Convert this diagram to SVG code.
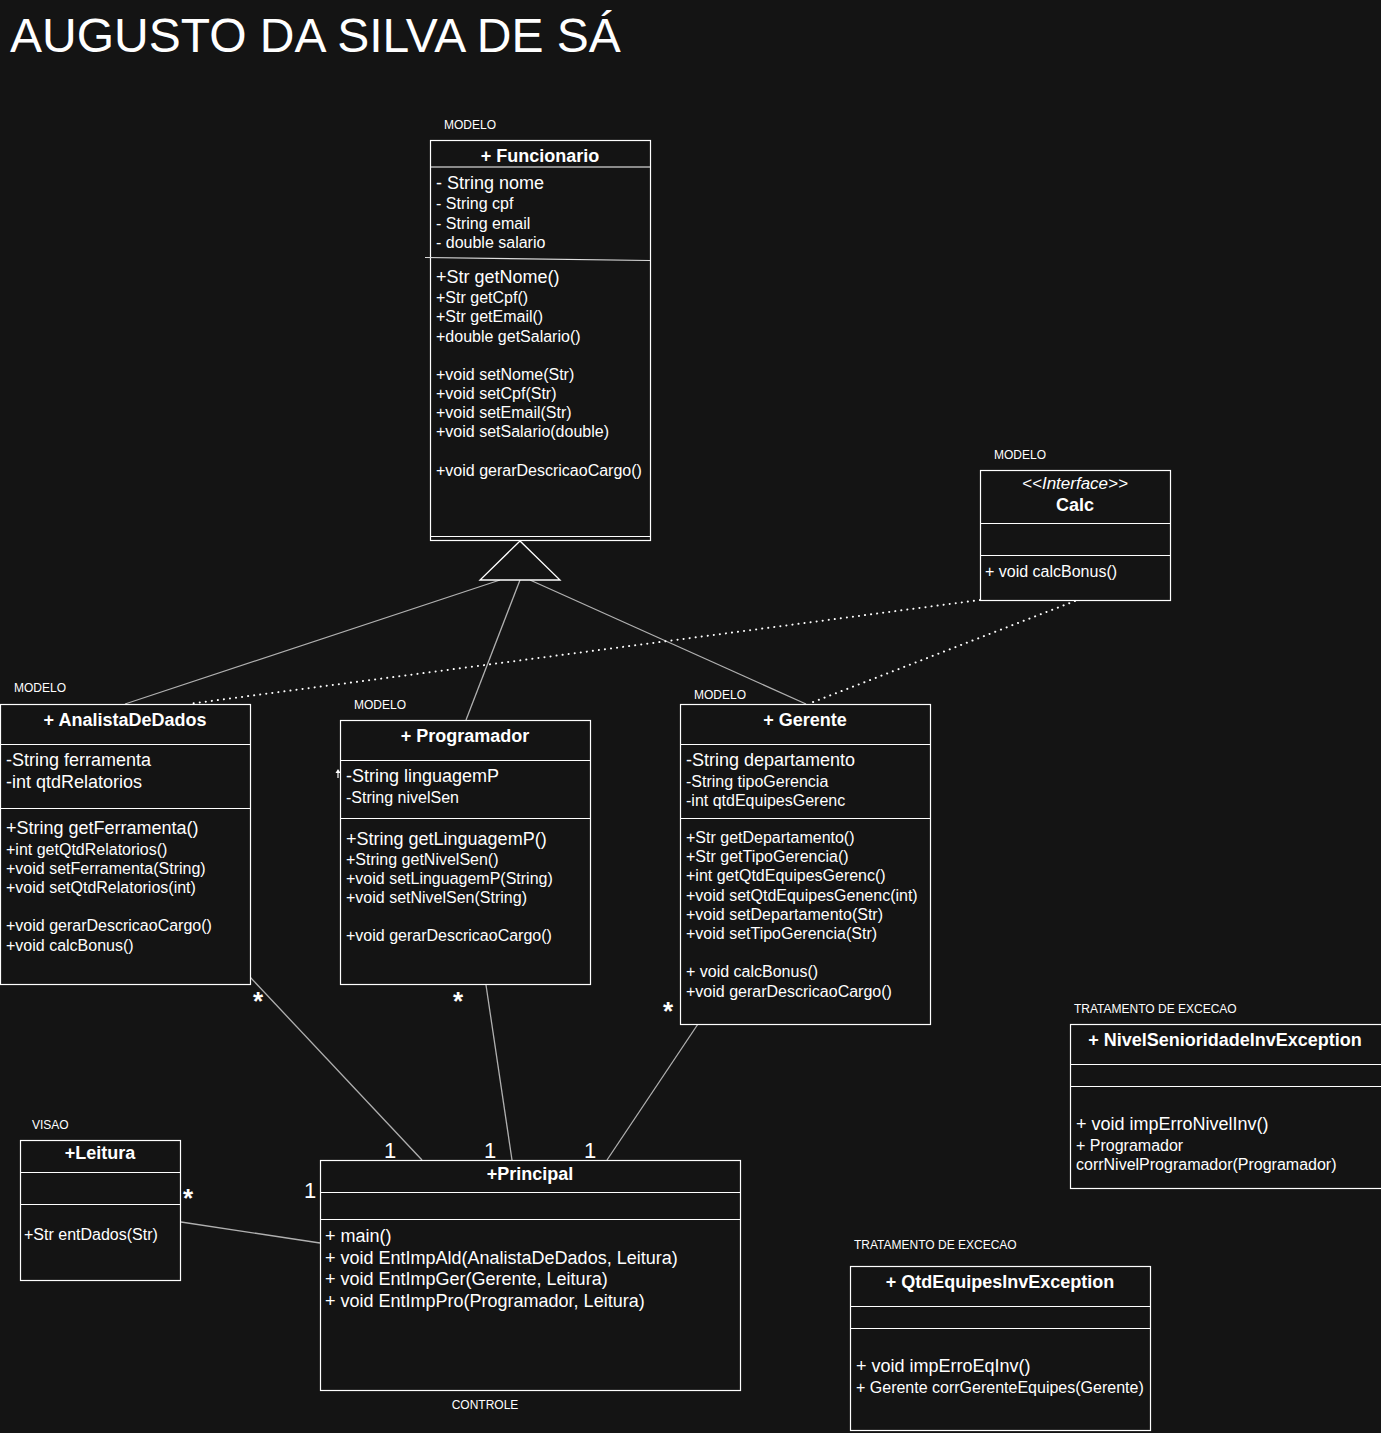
<svg xmlns="http://www.w3.org/2000/svg" width="1381" height="1433" viewBox="0 0 1381 1433">
<defs>
<style>
text{font-family:"Liberation Sans",Arial,sans-serif;fill:#ffffff}
.box{fill:#141414;stroke:#ffffff;stroke-width:1.2}
.sep{stroke:#ffffff;stroke-width:1.2;fill:none}
.hd{font-weight:bold;font-size:18px;text-anchor:middle}
.a{font-size:18px}
.m{font-size:16px}
.lbl{font-size:12px}
.con{stroke:#b0b0b0;stroke-width:1.3;fill:none}
.dot{stroke:#ffffff;stroke-width:2;stroke-dasharray:0.1 6;stroke-linecap:round;fill:none}
.mult{font-size:22px}
.star{font-size:26px;font-weight:bold}
</style>
</defs>
<rect x="0" y="0" width="1381" height="1433" fill="#141414"/>
<text x="10" y="52" font-size="48">AUGUSTO DA SILVA DE SÁ</text>

<g id="connectors">
<line class="con" x1="500" y1="580" x2="125" y2="704"/>
<line class="con" x1="520" y1="580" x2="466" y2="720"/>
<line class="con" x1="530" y1="580" x2="806" y2="704"/>
<polyline class="dot" points="980,600 188,704"/>
<polyline class="dot" points="1075,601 808,704"/>
<line class="con" x1="250" y1="977" x2="422" y2="1160"/>
<line class="con" x1="486" y1="985" x2="512" y2="1160"/>
<line class="con" x1="698" y1="1024" x2="607" y2="1160"/>
<line class="con" x1="181" y1="1222" x2="320" y2="1243"/>
<polygon points="520,541 480,580 560,580" fill="#141414" stroke="#ffffff" stroke-width="1.3"/>
<path d="M338,778 L338,771" stroke="#ffffff" stroke-width="1.2"/>
<path d="M335.5,773 L338,769 L340.5,773 Z" fill="#ffffff"/>
<text class="star" x="253" y="1010">*</text>
<text class="star" x="453" y="1010">*</text>
<text class="star" x="663" y="1020">*</text>
<text class="star" x="183" y="1207">*</text>
<text class="mult" x="384" y="1158">1</text>
<text class="mult" x="484" y="1158">1</text>
<text class="mult" x="584" y="1158">1</text>
<text class="mult" x="304" y="1198">1</text>
</g>

<g id="funcionario">
<text class="lbl" x="444" y="129">MODELO</text>
<rect class="box" x="430.5" y="140.5" width="220" height="400" fill="none"/>
<line class="sep" x1="430" y1="167" x2="650" y2="167"/>
<line x1="425" y1="257.5" x2="650" y2="260.5" stroke="#dddddd" stroke-width="1.2"/>
<line class="sep" x1="430" y1="536.5" x2="650" y2="536.5"/>
<text class="hd" x="540" y="162">+ Funcionario</text>
<text class="a" x="436" y="189">- String nome</text>
<text class="m" x="436" y="209">- String cpf</text>
<text class="m" x="436" y="229">- String email</text>
<text class="m" x="436" y="248">- double salario</text>
<text class="a" x="436" y="283">+Str getNome()</text>
<text class="m" x="436" y="303">+Str getCpf()</text>
<text class="m" x="436" y="322">+Str getEmail()</text>
<text class="m" x="436" y="342">+double getSalario()</text>
<text class="m" x="436" y="380">+void setNome(Str)</text>
<text class="m" x="436" y="399">+void setCpf(Str)</text>
<text class="m" x="436" y="418">+void setEmail(Str)</text>
<text class="m" x="436" y="437">+void setSalario(double)</text>
<text class="m" x="436" y="476">+void gerarDescricaoCargo()</text>
</g>

<g id="calc">
<text class="lbl" x="994" y="459">MODELO</text>
<rect class="box" x="980.5" y="470.5" width="190" height="130"/>
<line class="sep" x1="980" y1="523.5" x2="1170" y2="523.5"/>
<line class="sep" x1="980" y1="555.5" x2="1170" y2="555.5"/>
<text x="1075" y="489" font-size="17" font-style="italic" text-anchor="middle">&lt;&lt;Interface&gt;&gt;</text>
<text class="hd" x="1075" y="511">Calc</text>
<text class="m" x="985" y="577">+ void calcBonus()</text>
</g>

<g id="analista">
<text class="lbl" x="14" y="692">MODELO</text>
<rect class="box" x="0.5" y="704.5" width="250" height="280"/>
<line class="sep" x1="0" y1="744.5" x2="250" y2="744.5"/>
<line class="sep" x1="0" y1="808.5" x2="250" y2="808.5"/>
<text class="hd" x="125" y="726">+ AnalistaDeDados</text>
<text class="a" x="6" y="766">-String ferramenta</text>
<text class="a" x="6" y="788">-int qtdRelatorios</text>
<text class="a" x="6" y="834">+String getFerramenta()</text>
<text class="m" x="6" y="855">+int getQtdRelatorios()</text>
<text class="m" x="6" y="874">+void setFerramenta(String)</text>
<text class="m" x="6" y="893">+void setQtdRelatorios(int)</text>
<text class="m" x="6" y="931">+void gerarDescricaoCargo()</text>
<text class="m" x="6" y="951">+void calcBonus()</text>
</g>

<g id="programador">
<text class="lbl" x="354" y="709">MODELO</text>
<rect class="box" x="340.5" y="720.5" width="250" height="264"/>
<line class="sep" x1="340" y1="760.5" x2="590" y2="760.5"/>
<line class="sep" x1="340" y1="818.5" x2="590" y2="818.5"/>
<text class="hd" x="465" y="742">+ Programador</text>
<text class="a" x="346" y="782">-String linguagemP</text>
<text class="m" x="346" y="803">-String nivelSen</text>
<text class="a" x="346" y="845">+String getLinguagemP()</text>
<text class="m" x="346" y="865">+String getNivelSen()</text>
<text class="m" x="346" y="884">+void setLinguagemP(String)</text>
<text class="m" x="346" y="903">+void setNivelSen(String)</text>
<text class="m" x="346" y="941">+void gerarDescricaoCargo()</text>
</g>

<g id="gerente">
<text class="lbl" x="694" y="699">MODELO</text>
<rect class="box" x="680.5" y="704.5" width="250" height="320"/>
<line class="sep" x1="680" y1="744.5" x2="930" y2="744.5"/>
<line class="sep" x1="680" y1="818.5" x2="930" y2="818.5"/>
<text class="hd" x="805" y="726">+ Gerente</text>
<text class="a" x="686" y="766">-String departamento</text>
<text class="m" x="686" y="787">-String tipoGerencia</text>
<text class="m" x="686" y="806">-int qtdEquipesGerenc</text>
<text class="m" x="686" y="843">+Str getDepartamento()</text>
<text class="m" x="686" y="862">+Str getTipoGerencia()</text>
<text class="m" x="686" y="881">+int getQtdEquipesGerenc()</text>
<text class="m" x="686" y="901">+void setQtdEquipesGenenc(int)</text>
<text class="m" x="686" y="920">+void setDepartamento(Str)</text>
<text class="m" x="686" y="939">+void setTipoGerencia(Str)</text>
<text class="m" x="686" y="977">+ void calcBonus()</text>
<text class="m" x="686" y="997">+void gerarDescricaoCargo()</text>
</g>

<g id="nivelexc">
<text class="lbl" x="1074" y="1013">TRATAMENTO DE EXCECAO</text>
<rect class="box" x="1070.5" y="1024.5" width="320" height="164"/>
<line class="sep" x1="1070" y1="1064.5" x2="1381" y2="1064.5"/>
<line class="sep" x1="1070" y1="1086.5" x2="1381" y2="1086.5"/>
<text class="hd" x="1225" y="1046">+ NivelSenioridadeInvException</text>
<text class="a" x="1076" y="1130">+ void impErroNivelInv()</text>
<text class="m" x="1076" y="1151">+ Programador</text>
<text class="m" x="1076" y="1170">corrNivelProgramador(Programador)</text>
</g>

<g id="qtdexc">
<text class="lbl" x="854" y="1249">TRATAMENTO DE EXCECAO</text>
<rect class="box" x="850.5" y="1266.5" width="300" height="164"/>
<line class="sep" x1="850" y1="1306.5" x2="1150" y2="1306.5"/>
<line class="sep" x1="850" y1="1328.5" x2="1150" y2="1328.5"/>
<text class="hd" x="1000" y="1288">+ QtdEquipesInvException</text>
<text class="a" x="856" y="1372">+ void impErroEqInv()</text>
<text class="m" x="856" y="1393">+ Gerente corrGerenteEquipes(Gerente)</text>
</g>

<g id="leitura">
<text class="lbl" x="32" y="1129">VISAO</text>
<rect class="box" x="20.5" y="1140.5" width="160" height="140"/>
<line class="sep" x1="20" y1="1172.5" x2="180" y2="1172.5"/>
<line class="sep" x1="20" y1="1204.5" x2="180" y2="1204.5"/>
<text class="hd" x="100" y="1159">+Leitura</text>
<text class="m" x="24" y="1240">+Str entDados(Str)</text>
</g>

<g id="principal">
<rect class="box" x="320.5" y="1160.5" width="420" height="230"/>
<line class="sep" x1="320" y1="1192.5" x2="740" y2="1192.5"/>
<line class="sep" x1="320" y1="1219.5" x2="740" y2="1219.5"/>
<text class="hd" x="530" y="1180">+Principal</text>
<text class="a" x="325" y="1242">+ main()</text>
<text class="a" x="325" y="1264">+ void EntImpAld(AnalistaDeDados, Leitura)</text>
<text class="a" x="325" y="1285">+ void EntImpGer(Gerente, Leitura)</text>
<text class="a" x="325" y="1307">+ void EntImpPro(Programador, Leitura)</text>
<text class="lbl" x="485" y="1409" text-anchor="middle">CONTROLE</text>
</g>
</svg>
